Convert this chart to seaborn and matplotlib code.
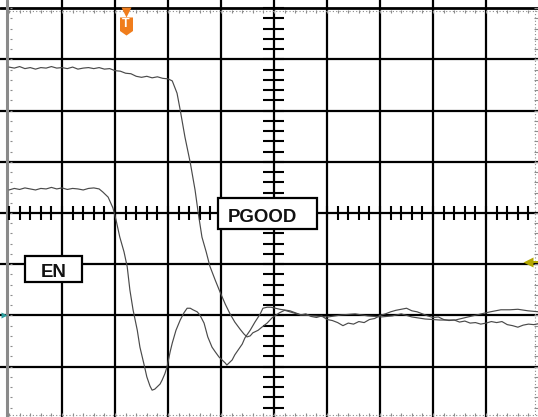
import numpy as np
import pandas as pd
import matplotlib
matplotlib.use("Agg")
import matplotlib.pyplot as plt
import seaborn as sns
from matplotlib.path import Path
from matplotlib.patches import Rectangle

# ---------------- data (time and voltage in screen divisions) ----------------
pgood_t = [-5.0, -4.9, -4.8, -4.7, -4.6, -4.5, -4.4, -4.3, -4.2, -4.1, -4.0, -3.9, -3.8,
           -3.7, -3.6, -3.5, -3.4, -3.3, -3.2, -3.1, -3.0, -2.9, -2.8, -2.7, -2.6, -2.5,
           -2.4, -2.3, -2.2, -2.1, -2.0, -1.92, -1.83, -1.77, -1.68, -1.58, -1.49, -1.43,
           -1.36, -1.28, -1.21, -1.11, -1.02, -0.92, -0.83, -0.74, -0.64, -0.57, -0.51,
           -0.45, -0.40, -0.30, -0.23, -0.13, -0.04, 0.1, 0.2, 0.3, 0.4, 0.5, 0.6, 0.7,
           0.8, 0.9, 1.0, 1.1, 1.2, 1.3, 1.4, 1.5, 1.6, 1.7, 1.8, 1.9, 2.0, 2.1, 2.2, 2.3,
           2.4, 2.5, 2.6, 2.7, 2.8, 2.9, 3.0, 3.1, 3.2, 3.3, 3.4, 3.5, 3.6, 3.7, 3.8, 3.9,
           4.0, 4.1, 4.2, 4.3, 4.4, 4.5, 4.6, 4.7, 4.8, 4.9, 5.0]
pgood_v = [2.85, 2.83, 2.86, 2.82, 2.84, 2.81, 2.84, 2.83, 2.86, 2.83, 2.84, 2.82, 2.85,
           2.81, 2.83, 2.84, 2.82, 2.84, 2.81, 2.82, 2.78, 2.77, 2.73, 2.72, 2.67, 2.65,
           2.67, 2.64, 2.66, 2.63, 2.62, 2.58, 2.34, 2.01, 1.48, 0.98, 0.45, 0.0,
           -0.47, -0.76, -1.04, -1.31, -1.54, -1.78, -1.97, -2.13, -2.27, -2.36, -2.42,
           -2.40, -2.34, -2.29, -2.23, -2.15, -2.05, -1.95, -1.90, -1.93, -1.96, -1.99,
           -1.97, -2.02, -2.04, -2.01, -2.08, -2.10, -2.14, -2.20, -2.15, -2.17, -2.12,
           -2.14, -2.08, -2.06, -2.00, -1.97, -1.93, -1.90, -1.88, -1.86, -1.91, -1.93,
           -1.97, -2.01, -2.04, -2.03, -2.08, -2.10, -2.09, -2.13, -2.11, -2.15, -2.14,
           -2.17, -2.15, -2.12, -2.14, -2.12, -2.18, -2.20, -2.23, -2.19, -2.17, -2.18,
           -2.16]

en_t = [-5.0, -4.9, -4.8, -4.7, -4.6, -4.5, -4.4, -4.3, -4.2, -4.1, -4.0, -3.9, -3.8, -3.7,
        -3.6, -3.5, -3.4, -3.3, -3.23, -3.13, -3.04, -2.98, -2.91, -2.83, -2.77, -2.72,
        -2.66, -2.58, -2.53, -2.45, -2.40, -2.34, -2.30, -2.25, -2.21, -2.15, -2.11,
        -2.06, -2.02, -1.96, -1.92, -1.85, -1.77, -1.70, -1.64, -1.58, -1.53, -1.45,
        -1.40, -1.32, -1.25, -1.17, -1.11, -1.04, -0.98, -0.92, -0.89, -0.83, -0.79,
        -0.74, -0.68, -0.60, -0.55, -0.45, -0.36, -0.26, -0.21, -0.13, -0.06, 0.11,
        0.30, 0.51, 0.77, 1.02, 1.28, 1.53, 1.77, 2.02, 2.23, 2.40, 2.60, 2.85, 3.13,
        3.42, 3.66, 3.91, 4.08, 4.28, 4.45, 4.60, 4.79, 5.0]
en_v = [0.45, 0.48, 0.46, 0.49, 0.47, 0.45, 0.48, 0.47, 0.50, 0.47, 0.49, 0.46, 0.48, 0.47,
        0.45, 0.48, 0.49, 0.47, 0.41, 0.31, 0.10, -0.14, -0.47, -0.76, -1.05, -1.50,
        -1.89, -2.29, -2.62, -2.97, -3.20, -3.38, -3.46, -3.44, -3.40, -3.34, -3.26,
        -3.14, -3.01, -2.71, -2.54, -2.29, -2.09, -1.95, -1.86, -1.86, -1.89, -1.93,
        -1.99, -2.15, -2.42, -2.62, -2.71, -2.81, -2.87, -2.93, -2.97, -2.91, -2.87,
        -2.77, -2.68, -2.56, -2.44, -2.29, -2.13, -1.97, -1.86, -1.84, -1.84, -1.88,
        -1.91, -1.99, -2.01, -2.03, -1.99, -1.97, -2.01, -2.03, -2.01, -1.97, -2.03,
        -2.07, -2.09, -2.09, -2.03, -1.97, -1.93, -1.89, -1.89, -1.88, -1.91, -1.93]

labels = ["PGOOD", "EN"]
trigger_t = -2.8
ref_level = -1.99
ch_marker_level = -0.96

# ---------------- figure ----------------
sns.set_theme(style="white")
plt.rcParams['font.family'] = ['Liberation Sans', 'DejaVu Sans']

fig = plt.figure(figsize=(5.38, 4.17), dpi=100, facecolor="white")
ax = fig.add_axes([0, 0, 1, 1])

grid_c = "black"
for k in range(-4, 5):
    ax.axvline(k, color=grid_c, lw=1.6, zorder=1)
for k in range(-3, 4):
    ax.axhline(k, color=grid_c, lw=1.6, zorder=1)
ax.axhline(4.0, color=grid_c, lw=2.0, zorder=1)
ax.axvline(-5.04, color="#8a8a8a", lw=2.2, zorder=1)

# centre axis ticks
xt = np.arange(-5, 5.01, 0.2)
ax.vlines(xt, -0.14, 0.14, color=grid_c, lw=1.5, zorder=1)
yt = np.arange(-4, 4.01, 0.2)
ax.hlines(yt, -0.2, 0.18, color=grid_c, lw=1.5, zorder=1)

# small border ticks / dotted rims
minor_c = "#8c8c8c"
ax.hlines(3.95, -5, 5, color=minor_c, lw=0.8, linestyles=(0, (1, 2)), zorder=1)
ax.vlines(xt, 3.90, 3.97, color=minor_c, lw=0.8, zorder=1)
ax.hlines(-3.945, -5, 5, color=minor_c, lw=0.8, linestyles=(0, (1, 2)), zorder=1)
ax.vlines(xt, -3.97, -3.90, color=minor_c, lw=0.8, zorder=1)
ax.vlines(4.93, -4, 4, color=minor_c, lw=0.8, linestyles=(0, (1, 2)), zorder=1)
ax.hlines(yt, 4.90, 4.98, color=minor_c, lw=0.8, zorder=1)
ax.hlines(yt, -4.99, -4.94, color=minor_c, lw=0.8, zorder=1)

# traces
df = pd.concat([
    pd.DataFrame({"t": pgood_t, "v": pgood_v, "trace": labels[0]}),
    pd.DataFrame({"t": en_t, "v": en_v, "trace": labels[1]}),
])
sns.lineplot(data=df, x="t", y="v", hue="trace", units="trace", estimator=None,
             sort=False, palette=["#4a4a4a", "#4a4a4a"], lw=0.85, legend=False,
             ax=ax, zorder=3)
ax.set_xlim(-5.17, 4.98)
ax.set_ylim(-3.984, 4.16)
ax.set_axis_off()

# label boxes
ax.add_patch(Rectangle((-1.057, -0.31), 1.867, 0.603, facecolor="white",
                       edgecolor="black", lw=1.6, zorder=5))
ax.text(-0.226, -0.18, labels[0], fontsize=13.4, fontweight="bold", color="#111111",
        ha="center", va="baseline", zorder=6)
ax.add_patch(Rectangle((-4.70, -1.34), 1.08, 0.50, facecolor="white",
                       edgecolor="black", lw=1.6, zorder=5))
ax.text(-4.16, -1.244, labels[1], fontsize=13.4, fontweight="bold", color="#111111",
        ha="center", va="baseline", zorder=6)

# trigger marker
orange = "#f07d1c"
shield = Path([(-0.72, 1), (0.72, 1), (0.72, -0.5), (0, -1), (-0.72, -0.5), (-0.72, 1)],
              [Path.MOVETO, Path.LINETO, Path.LINETO, Path.LINETO, Path.LINETO, Path.CLOSEPOLY])
ax.plot([trigger_t], [3.66], marker=shield, ms=13, color=orange, mec="none", zorder=7)
ax.text(trigger_t, 3.69, "T", color="white", fontsize=9, fontweight="bold",
        ha="center", va="center", zorder=8)
ax.plot([trigger_t], [3.92], marker="v", ms=6.5, color=orange, mec="none", zorder=7)

# channel reference markers
ax.plot([4.80], [ch_marker_level], marker="<", ms=7, color="#b3a600", mec="none", zorder=7)
ax.hlines(ch_marker_level, 4.80, 4.98, color="#b3a600", lw=1.4, zorder=7)
ax.plot([-5.10], [ref_level], marker=">", ms=4, color="#2a9d9d", mec="none", zorder=7)

fig.savefig("out.png", dpi=100, facecolor="white")
